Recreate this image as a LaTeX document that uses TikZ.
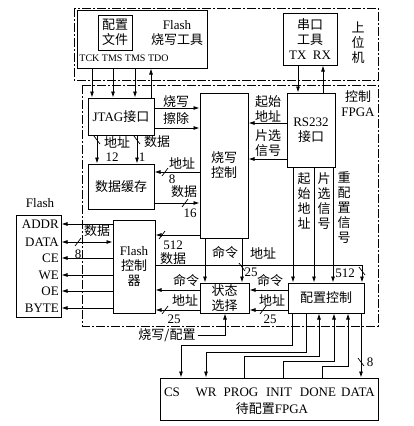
\documentclass[tikz,border=0pt]{standalone}
\usepackage{fontspec}
\setmainfont{Liberation Serif}
\newfontfamily\cjk{Noto Sans CJK SC}
\newcommand\zh[1]{{\cjk #1}}
\newcommand\sz{\fontsize{13}{15}\selectfont}
\usetikzlibrary{arrows.meta}

\begin{document}
\begin{tikzpicture}[x=1pt, y=-1pt,
    every node/.style={font=\sz, inner sep=0pt},
    cn/.style={font=\sz\cjk, align=center},
    box/.style={draw, line width=1pt},
    arr/.style={-{Latex[length=6pt,width=4pt]}, line width=0.8pt},
    frame/.style={line width=0.9pt, dash pattern=on 9pt off 2pt on 2pt off 2pt},
    vbus/.pic={\draw[line width=0.7pt] (-3,-4) -- (3,4);},
    hbus/.pic={\draw[line width=0.7pt] (-3,4) -- (3,-4);}
]
    \useasboundingbox (0,0) rectangle (414,426);

    % host computer
    \draw[frame] (74,8) rectangle (378,80);
    \node[box, minimum width=130pt, minimum height=58pt] (flashtool) at (142,39) {};
    \node[box, cn, minimum width=34pt, minimum height=35pt] (cfgfile) at (115,32.5) {配置\\文件};
    \node[align=center] (toolname) at (177,33) {Flash\\\zh{烧写工具}};
    \node[font=\fontsize{10}{12}\selectfont] (jtagpins) at (124,58) {TCK TMS TMS TDO};
    \node[box, align=center, minimum width=54pt, minimum height=52pt] (serial) at (310,39) {\zh{串口}\\\zh{工具}\\TX\enspace RX};
    \node[cn] (hostname) at (358,43) {上\\位\\机};

    % control FPGA
    \draw[frame] (82,85) rectangle (378,326);
    \node[align=center] (fpganame) at (358,104) {\zh{控制}\\FPGA};
    \node[box, minimum width=66pt, minimum height=37pt] (jtag) at (121,116.5) {JTAG\zh{接口}};
    \node[box, cn, minimum width=48pt, minimum height=145pt] (burnctl) at (224,165.5) {烧写\\控制};
    \node[box, align=center, minimum width=48pt, minimum height=74pt] (rs232) at (311,130) {RS232\\\zh{接口}};
    \node[box, cn, minimum width=66pt, minimum height=45pt] (buffer) at (121,186.5) {数据缓存};
    \node[box, align=center, minimum width=42pt, minimum height=93pt] (flashctl) at (134,266.5) {Flash\\\zh{控制}\\\zh{器}};
    \node[box, cn, minimum width=49pt, minimum height=30pt] (statesel) at (224.5,298) {状态\\选择};
    \node[box, cn, minimum width=76pt, minimum height=30pt] (cfgctl) at (326,298) {配置控制};

    % flash chip
    \node (flashname) at (40,203) {Flash};
    \node[box, minimum width=45pt, minimum height=102pt] (flash) at (38.5,266) {};
    \foreach \t/\y in {ADDR/224, DATA/242, CE/258, WE/275, OE/291, BYTE/308}
        \node[anchor=east] (pin\t) at (59,\y) {\t};

    % target FPGA
    \node[box, minimum width=218pt, minimum height=42pt] (target) at (269,399) {};
    \foreach \t/\x in {CS/172, WR/206, PROG/241, INIT/279, DONE/318, DATA/358}
        \node (t\t) at (\x,392) {\t};
    \node (targetname) at (272,409) {\zh{待配置}FPGA};

    % host links
    \foreach \x in {92,113,135}
        \draw[arr] (flashtool.south -| \x,0) -- (jtag.north -| \x,0);
    \draw[arr] (jtag.north -| 151,0) -- (flashtool.south -| 151,0);
    \draw[arr] (serial.south -| 298,0) -- (rs232.north -| 298,0);
    \draw[arr] (rs232.north -| 323,0) -- (serial.south -| 323,0);

    % jtag side
    \foreach \y in {108,128}
        \draw[arr] (jtag.east |- 0,\y) -- (burnctl.west |- 0,\y);
    \node[cn] (lburn) at (176,102) {烧写};
    \node[cn] (lerase) at (176,119) {擦除};
    \foreach \x in {97,137}
        \draw[arr] (jtag.south -| \x,0) -- (buffer.north -| \x,0);
    \pic at (97,140) {vbus};
    \pic at (137,140) {vbus};
    \node[cn] (ljaddr) at (117,142) {地址};
    \node[cn] (ljdata) at (157,142) {数据};
    \node (ljaddrw) at (112,157) {12};
    \node (ljdataw) at (142,157) {1};

    % buffer side
    \draw[arr] (burnctl.west |- 0,172) -- (buffer.east |- 0,172);
    \pic at (165,172) {hbus};
    \node[cn] (lbaddr) at (182,163) {地址};
    \node (lbaddrw) at (172,179) {8};
    \draw[arr] (buffer.east |- 0,203) -- (burnctl.west |- 0,203);
    \pic at (185,203) {hbus};
    \node[cn] (lbdata) at (184,192) {数据};
    \node (lbdataw) at (190,213) {16};
    \draw[arr] (burnctl.west |- 0,235) -- (flashctl.east |- 0,235);
    \pic at (162,235) {hbus};
    \node (lfdataw) at (173,245) {512};
    \node[cn] (lfdata) at (173,259) {数据};

    % rs232 side
    \draw[arr] (rs232.west |- 0,123) -- (burnctl.east |- 0,123);
    \draw[arr] (rs232.west |- 0,159) -- (burnctl.east |- 0,159);
    \node[cn] (lstart) at (268,109) {起始\\地址};
    \node[cn] (lcs) at (268,143) {片选\\信号};
    \foreach \x in {293,314,333}
        \draw[arr] (rs232.south -| \x,0) -- (cfgctl.north -| \x,0);
    \node[cn] (vstart) at (304,201) {起\\始\\地\\址};
    \node[cn] (vcs) at (324,201) {片\\选\\信\\号};
    \node[cn] (vrecfg) at (344,208) {重\\配\\置\\信\\号};

    % state select
    \foreach \x in {205,242}
        \draw[arr] (burnctl.south -| \x,0) -- (statesel.north -| \x,0);
    \pic at (242,267) {vbus};
    \node[cn] (lbcmd) at (225,253) {命令};
    \node[cn] (lbadr) at (263,253) {地址};
    \node (lbadrw) at (251,272) {25};
    \draw[arr] (flashctl.east |- 0,265) -| (cfgctl.north -| 362,0);
    \pic at (362,271) {vbus};
    \node (lcdataw) at (345,273) {512};
    \foreach \y in {290,310}
        \draw[arr] (cfgctl.west |- 0,\y) -- (statesel.east |- 0,\y);
    \pic at (263,310) {hbus};
    \node[cn] (lccmd) at (270,281) {命令};
    \node[cn] (lcadr) at (272,300) {地址};
    \node (lcadrw) at (270,319) {25};
    \foreach \y in {290,310}
        \draw[arr] (statesel.west |- 0,\y) -- (flashctl.east |- 0,\y);
    \pic at (165,310) {hbus};
    \node[cn] (lscmd) at (186,281) {命令};
    \node[cn] (lsadr) at (185,300) {地址};
    \node (lsadrw) at (174,319) {25};
    \node[cn] (bwsel) at (167,335) {烧写/配置};
    \draw[arr] ([xshift=2pt]bwsel.east) -| (statesel.south -| 225,0);

    % flash pins
    \foreach \t in {ADDR,CE,WE,OE,BYTE}
        \draw[arr] (flashctl.west |- pin\t) -- (flash.east |- pin\t);
    \draw[arr, {Latex[length=6pt,width=4pt]}-{Latex[length=6pt,width=4pt]}] (flashctl.west |- pinDATA) -- (flash.east |- pinDATA);
    \pic at (78,242) {hbus};
    \node[cn] (lfd) at (97,231) {数据};
    \node (lfdw) at (78,254) {8};

    % configuration pins
    \draw[arr] (cfgctl.south -| 292,0) -- ++(0,32) -| (target.north -| 181,0);
    \draw[arr] (cfgctl.south -| 306,0) -- ++(0,39) -| (target.north -| 206,0);
    \draw[arr] (target.north -| 244,0) -- ++(0,-21) -| (cfgctl.south -| 319,0);
    \draw[arr] (target.north -| 283,0) -- ++(0,-16) -| (cfgctl.south -| 334,0);
    \draw[arr] (target.north -| 322,0) -- ++(0,-11) -| (cfgctl.south -| 348,0);
    \draw[arr] (cfgctl.south -| 361,0) -- (target.north -| 361,0);
    \pic at (361,362) {vbus};
    \node (ldataw) at (370,362) {8};
\end{tikzpicture}
\end{document}
